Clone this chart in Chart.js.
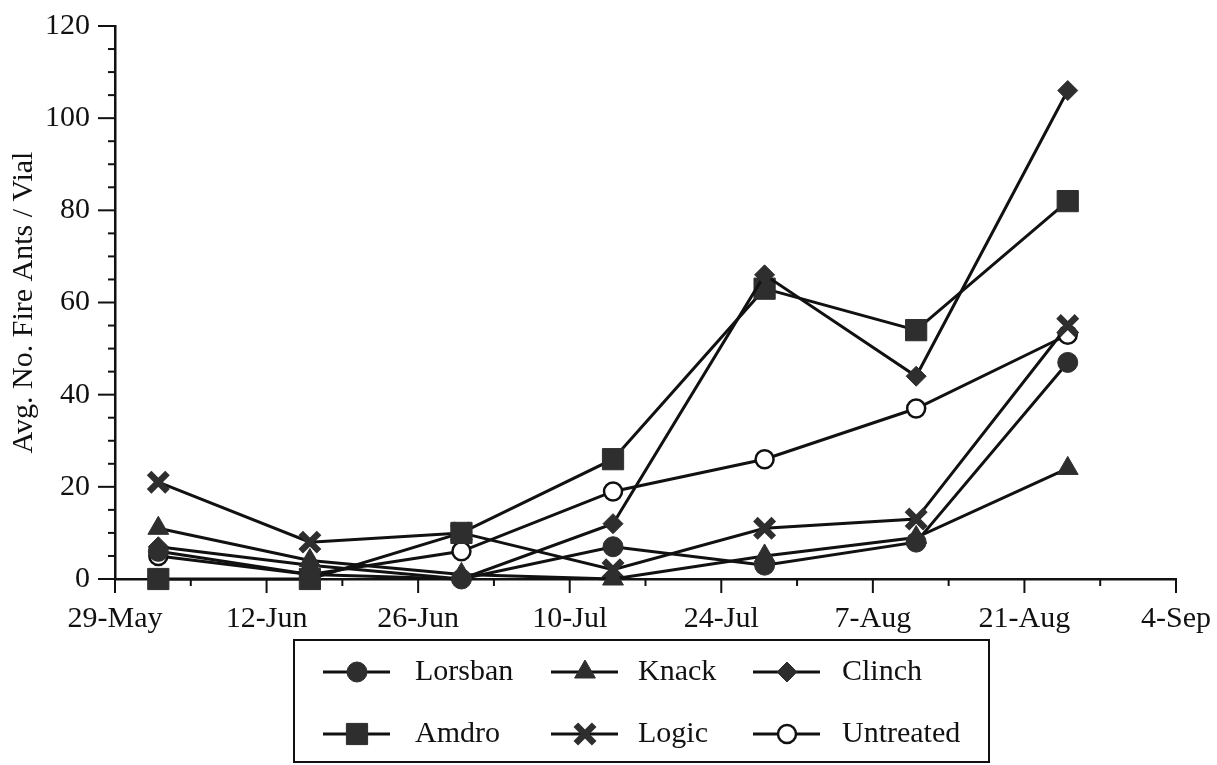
<!DOCTYPE html>
<html>
<head>
<meta charset="utf-8">
<title>Fire ants per vial</title>
<script src="https://cdn.jsdelivr.net/npm/chart.js@4.4.1/dist/chart.umd.min.js"></script>
<style>
  html, body { margin: 0; padding: 0; background: #fff; }
  #wrap { width: 1217px; height: 765px; }
</style>
</head>
<body>
<div id="wrap"><canvas id="antChart" width="1217" height="765"></canvas></div>
<script>
// sampling dates, counted in days after 29-May
const sampleDays = [4, 18, 32, 46, 60, 74, 88];
const dateLabels = ["29-May", "12-Jun", "26-Jun", "10-Jul", "24-Jul", "7-Aug", "21-Aug", "4-Sep"];
const yTickLabels = [0, 20, 40, 60, 80, 100, 120];

// avg. no. of fire ants per vial
const lorsban = [6, 1, 0, 7, 3, 8, 47];
const knack = [11, 4, 1, 0, 5, 9, 24];
const clinch = [7, 3, 0, 12, 66, 44, 106];
const amdro = [0, 0, 10, 26, 63, 54, 82];
const logic = [21, 8, 10, 2, 11, 13, 55];
const untreated = [5, 1, 6, 19, 26, 37, 53];

const INK = "#111";
const MARK = "#2e2e2e";
const FONT = "'Liberation Serif', 'DejaVu Serif', serif";

function toPoints(values) {
    return values.map((v, i) => ({ x: sampleDays[i], y: v }));
}

function series(label, values, style, radius, fill, borderW) {
    return {
        label: label,
        data: toPoints(values),
        borderColor: INK,
        borderWidth: 3,
        pointStyle: style,
        pointRadius: radius,
        pointBackgroundColor: fill,
        pointBorderColor: style === "crossRot" ? MARK : (fill === "#fff" ? INK : MARK),
        pointBorderWidth: borderW,
        tension: 0,
        clip: false,
    };
}

// ticks: long ones for labelled values, short ones in between
const tickMarks = {
    id: "tickMarks",
    afterDraw(chart) {
        const ctx = chart.ctx;
        const xs = chart.scales.x;
        const ys = chart.scales.y;
        ctx.save();
        ctx.strokeStyle = INK;
        ctx.lineWidth = 2;
        xs.ticks.forEach(t => {
            const px = xs.getPixelForValue(t.value);
            const len = t.value % 14 === 0 ? 14 : 7;
            ctx.beginPath();
            ctx.moveTo(px, xs.top);
            ctx.lineTo(px, xs.top + len);
            ctx.stroke();
        });
        ys.ticks.forEach(t => {
            const py = ys.getPixelForValue(t.value);
            const len = yTickLabels.includes(t.value) ? 17 : 7;
            ctx.beginPath();
            ctx.moveTo(ys.right, py);
            ctx.lineTo(ys.right - len, py);
            ctx.stroke();
        });
        ctx.restore();
    }
};

// boxed legend with line + marker samples, 3 columns x 2 rows
const boxLegend = {
    id: "boxLegend",
    afterDraw(chart) {
        const ctx = chart.ctx;
        const sampleX = [323, 551, 753];
        const textX = [415, 638, 842];
        const rowY = [672, 734];
        ctx.save();
        ctx.strokeStyle = INK;
        ctx.lineWidth = 2;
        ctx.strokeRect(294, 640, 695, 122);
        ctx.font = "30px " + FONT;
        ctx.textBaseline = "middle";
        ctx.textAlign = "left";
        chart.data.datasets.forEach((ds, i) => {
            const x0 = sampleX[i % 3];
            const y0 = rowY[Math.floor(i / 3)];
            ctx.strokeStyle = INK;
            ctx.lineWidth = 3;
            ctx.beginPath();
            ctx.moveTo(x0, y0);
            ctx.lineTo(x0 + 67, y0);
            ctx.stroke();
            ctx.fillStyle = ds.pointBackgroundColor;
            ctx.strokeStyle = ds.pointBorderColor;
            ctx.lineWidth = ds.pointBorderWidth;
            Chart.helpers.drawPoint(ctx, {
                pointStyle: ds.pointStyle,
                radius: ds.pointRadius,
                rotation: 0,
                borderWidth: ds.pointBorderWidth
            }, x0 + 34, y0);
            ctx.fillStyle = INK;
            ctx.fillText(ds.label, textX[i % 3], y0);
        });
        ctx.restore();
    }
};

const ctx = document.getElementById("antChart").getContext("2d");
new Chart(ctx, {
    type: "line",
    data: {
        datasets: [
            series("Lorsban", lorsban, "circle", 10, MARK, 1),
            series("Knack", knack, "triangle", 12, MARK, 1),
            series("Clinch", clinch, "rectRot", 10, MARK, 1),
            series("Amdro", amdro, "rect", 15, MARK, 1),
            series("Logic", logic, "crossRot", 13, MARK, 6.5),
            series("Untreated", untreated, "circle", 9, "#fff", 2.5),
        ],
    },
    plugins: [tickMarks, boxLegend],
    options: {
        responsive: false,
        animation: false,
        devicePixelRatio: 1,
        layout: { padding: { top: 20, right: 41, bottom: 0, left: 0 } },
        plugins: {
            legend: { display: false },
            tooltip: { enabled: false },
        },
        scales: {
            x: {
                type: "linear",
                min: 0,
                max: 98,
                afterFit: (scale) => {
                    scale.height = 186;
                    scale.paddingLeft = 0;
                    scale.paddingRight = 0;
                },
                grid: { display: false, drawTicks: true, tickLength: 14 },
                border: { display: true, color: INK, width: 2.5 },
                ticks: {
                    stepSize: 7,
                    autoSkip: false,
                    maxRotation: 0,
                    padding: 8,
                    color: INK,
                    font: { family: FONT, size: 30 },
                    callback: (v) => (v % 14 === 0 ? dateLabels[v / 14] : ""),
                },
            },
            y: {
                min: 0,
                max: 120,
                afterFit: (scale) => { scale.width = 115; },
                grid: { display: false, drawTicks: true, tickLength: 17 },
                border: { display: true, color: INK, width: 2.5 },
                ticks: {
                    stepSize: 5,
                    autoSkip: false,
                    padding: 8,
                    color: INK,
                    font: { family: FONT, size: 30 },
                    callback: (v) => (yTickLabels.includes(v) ? String(v) : ""),
                },
                title: {
                    display: true,
                    text: "Avg. No. Fire Ants / Vial",
                    color: INK,
                    font: { family: FONT, size: 30 },
                    padding: { top: 6, bottom: 0 },
                },
            },
        },
    },
});
</script>
</body>
</html>
